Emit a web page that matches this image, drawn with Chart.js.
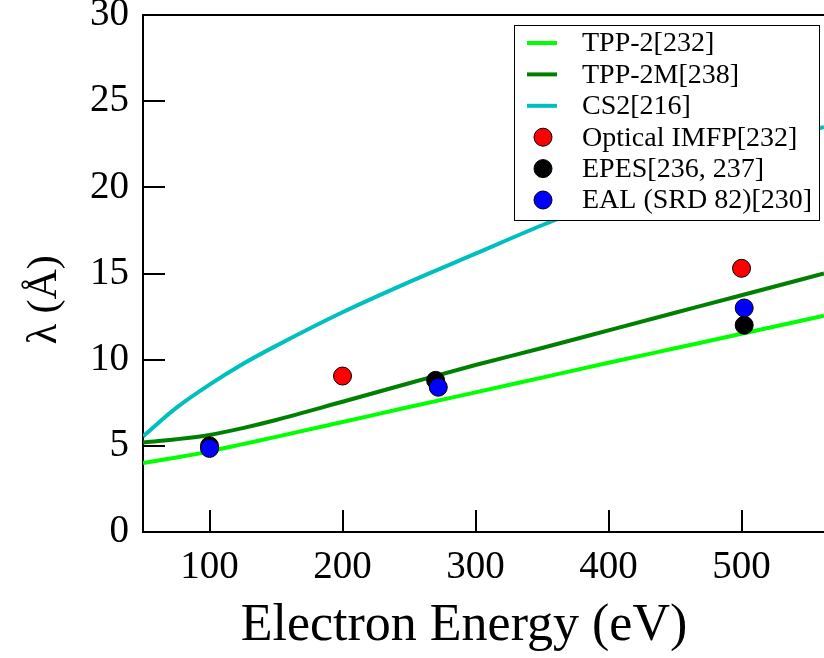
<!DOCTYPE html>
<html>
<head>
<meta charset="utf-8">
<script src="https://cdn.jsdelivr.net/npm/chart.js@4.4.1/dist/chart.umd.min.js"></script>
<style>
  body { margin: 0; background: #fff; }
  #wrap { width: 824px; height: 658px; }
</style>
</head>
<body>
<div id="wrap"><canvas id="c" width="824" height="658"></canvas></div>
<script>
// ====================== DATA ======================
const energyCurve = [50, 75, 100, 125, 150, 200, 250, 300, 350, 400, 450, 500, 562];
const tpp2  = [4.0, 4.32, 4.68, 5.1, 5.52, 6.38, 7.25, 8.1, 8.96, 9.82, 10.66, 11.5, 12.55];
const tpp2m = [5.2, 5.38, 5.63, 6.03, 6.5, 7.56, 8.63, 9.69, 10.68, 11.7, 12.72, 13.74, 15.0];
const cs2   = [5.55, 7.2, 8.55, 9.75, 10.8, 12.75, 14.5, 16.15, 17.8, 19.3, 20.7, 22.0, 23.5];

const opticalE = [200, 500];
const opticalL = [9.05, 15.3];
const epesE = [100, 270, 502];
const epesL = [5.0, 8.8, 12.0];
const ealE = [100, 272, 502];
const ealL = [4.85, 8.4, 13.0];

const labels = ["TPP-2[232]", "TPP-2M[238]", "CS2[216]", "Optical IMFP[232]", "EPES[236, 237]", "EAL (SRD 82)[230]"];
const xTicks = [100, 200, 300, 400, 500];
const yTicks = [0, 5, 10, 15, 20, 25, 30];

const SERIF = "'Liberation Serif', 'DejaVu Serif', serif";

function pts(xs, ys) { return xs.map((v, i) => ({ x: v, y: ys[i] })); }

function lineSet(label, ys, color, order) {
  return {
    label, data: pts(energyCurve, ys), showLine: true, borderColor: color,
    borderWidth: 4, pointRadius: 0, cubicInterpolationMode: "monotone", order
  };
}
function dotSet(label, xs, ys, color, order) {
  return {
    label, data: pts(xs, ys), showLine: false, backgroundColor: color,
    borderColor: "#000", borderWidth: 1, pointRadius: 9, order
  };
}

const datasets = [
  lineSet(labels[0], tpp2, "#00ff00", 5),
  lineSet(labels[1], tpp2m, "#008000", 4),
  lineSet(labels[2], cs2, "#00bfbf", 3),
  dotSet(labels[3], opticalE, opticalL, "#ff0000", 2),
  dotSet(labels[4], epesE, epesL, "#000000", 1),
  dotSet(labels[5], ealE, ealL, "#0000ff", 0)
];

// ====================== FRAME / TICKS / LEGEND ======================
const framePlugin = {
  id: "frame",
  afterDraw(chart) {
    const { ctx, chartArea: a, scales: { x, y } } = chart;
    ctx.save();
    ctx.strokeStyle = "#000";
    ctx.lineWidth = 2;
    ctx.beginPath();
    xTicks.forEach(v => {
      const px = Math.round(x.getPixelForValue(v));
      ctx.moveTo(px, a.bottom); ctx.lineTo(px, a.bottom - 22);
    });
    yTicks.forEach(v => {
      const py = Math.round(y.getPixelForValue(v));
      ctx.moveTo(a.left, py); ctx.lineTo(a.left + 22, py);
    });
    ctx.moveTo(a.left - 1, a.top); ctx.lineTo(a.right, a.top);
    ctx.stroke();

    // legend box
    const bx = a.right - 310, by = a.top + 10, bw = 305, bh = 195;
    ctx.fillStyle = "#fff";
    ctx.fillRect(bx, by, bw, bh);
    ctx.lineWidth = 1;
    ctx.strokeRect(bx + 0.5, by + 0.5, bw, bh);

    ctx.font = "28px " + SERIF;
    ctx.textBaseline = "middle";
    datasets.forEach((ds, i) => {
      const cy = by + 18 + i * 31.4;
      if (ds.showLine) {
        ctx.strokeStyle = ds.borderColor;
        ctx.lineWidth = 4;
        ctx.beginPath();
        ctx.moveTo(bx + 13, cy); ctx.lineTo(bx + 43, cy);
        ctx.stroke();
      } else {
        ctx.fillStyle = ds.backgroundColor;
        ctx.strokeStyle = "#000";
        ctx.lineWidth = 1;
        ctx.beginPath();
        ctx.arc(bx + 29, cy, 9, 0, Math.PI * 2);
        ctx.fill(); ctx.stroke();
      }
      ctx.fillStyle = "#000";
      ctx.fillText(ds.label, bx + 68, cy + 1);
    });
    ctx.restore();
  }
};

// ====================== CHART ======================
new Chart(document.getElementById("c"), {
  type: "scatter",
  data: { datasets },
  options: {
    responsive: false,
    animation: false,
    devicePixelRatio: 1,
    layout: { autoPadding: false, padding: { top: 15, right: 0, left: 0, bottom: 0 } },
    plugins: { legend: { display: false }, tooltip: { enabled: false } },
    scales: {
      x: {
        type: "linear", min: 50, max: 562,
        afterBuildTicks: s => { s.ticks = xTicks.map(v => ({ value: v })); },
        afterFit: s => { s.height = 126; s.paddingLeft = 0; s.paddingRight = 0; },
        grid: { display: false, drawTicks: false },
        border: { color: "#000", width: 2 },
        ticks: { color: "#000", padding: 12, font: { family: SERIF, size: 39 } },
        title: { display: true, text: "Electron Energy (eV)\u00a0\u00a0\u00a0", color: "#000",
                 font: { family: SERIF, size: 52 }, padding: { top: 0, bottom: 0 } }
      },
      y: {
        min: 0, max: 30,
        afterBuildTicks: s => { s.ticks = yTicks.map(v => ({ value: v })); },
        afterFit: s => { s.width = 143; s.paddingTop = 0; s.paddingBottom = 0; },
        grid: { display: false, drawTicks: false },
        border: { color: "#000", width: 2 },
        ticks: { color: "#000", padding: 14, font: { family: SERIF, size: 39 } },
        title: { display: true, text: "λ (Å)\u00a0\u00a0\u00a0\u00a0\u00a0", color: "#000",
                 font: { family: SERIF, size: 42 }, padding: { top: 20, bottom: 0 } }
      }
    }
  },
  plugins: [framePlugin]
});
</script>
</body>
</html>
